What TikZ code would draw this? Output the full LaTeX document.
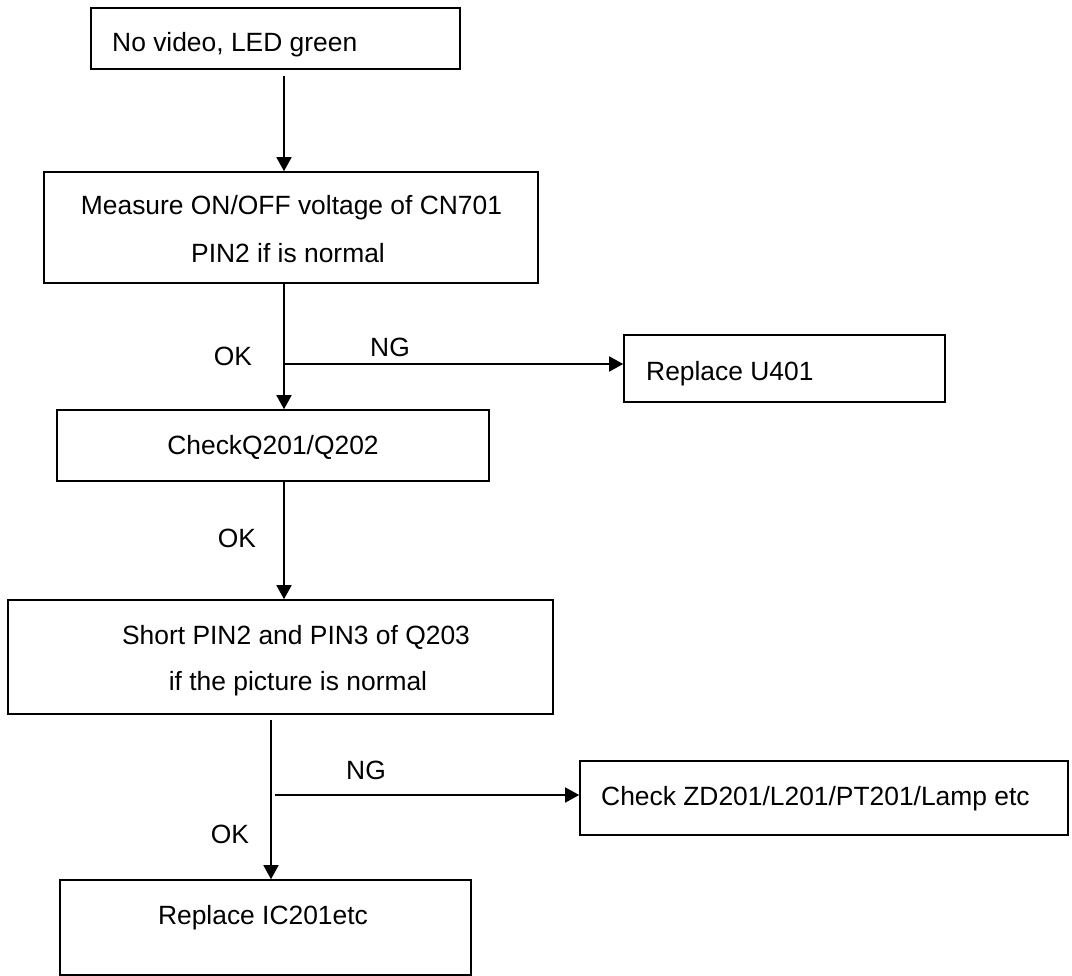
\documentclass[tikz,border=0pt]{standalone}
\usepackage{fontspec}
\setmainfont{Liberation Sans}
\usetikzlibrary{arrows.meta}
\begin{document}
\begin{tikzpicture}[x=1pt,y=-1pt,
  every node/.style={font=\fontsize{26.4pt}{32pt}\selectfont},
  box/.style={draw,line width=1.6pt,inner sep=0pt,rectangle},
  txt/.style={inner sep=0pt,anchor=base},
  txtl/.style={inner sep=0pt,anchor=base west},
  arr/.style={line width=1.6pt,-{Triangle[length=14pt,width=15pt]}}]
\useasboundingbox (0,0) rectangle (1072,976);
% boxes
\node[box,minimum width=369pt,minimum height=61pt] (B1) at (275.5,38.5) {};
\node[box,minimum width=494pt,minimum height=111pt] (B2) at (291,227.5) {};
\node[box,minimum width=432pt,minimum height=71pt] (B3) at (273,445.5) {};
\node[box,minimum width=321pt,minimum height=67pt] (BU) at (784.5,368.5) {};
\node[box,minimum width=545pt,minimum height=114pt] (B4) at (280.5,657) {};
\node[box,minimum width=488pt,minimum height=74pt] (B5) at (824,798) {};
\node[box,minimum width=411pt,minimum height=95pt] (B6) at (265.5,927.5) {};
% texts
\node[txtl] (t1) at (112,52) {No video, LED green};
\node[txt] (t2a) at (291.5,215) {Measure ON/OFF voltage of CN701};
\node[txt] (t2b) at (288,263) {PIN2 if is normal};
\node[txt] (t3) at (273,454) {CheckQ201/Q202};
\node[txtl] (tu) at (646,381) {Replace U401};
\node[txt] (t4a) at (296,644) {Short PIN2 and PIN3 of Q203};
\node[txt] (t4b) at (298,690) {if the picture is normal};
\node[txtl] (t5) at (601,805) {Check ZD201/L201/PT201/Lamp etc};
\node[txt] (t6) at (263,924) {Replace IC201etc};
% labels
\node[txt] (ok1) at (233,366) {OK};
\node[txt] (ng1) at (390,357) {NG};
\node[txt] (ok2) at (237,547) {OK};
\node[txt] (ng2) at (366,779) {NG};
\node[txt] (ok3) at (230,843) {OK};
% junctions
\coordinate (j1) at (284,364);
\coordinate (j2) at (275,795);
% connectors
\draw[arr] ([xshift=8.5pt,yshift=-6pt]B1.south) -- ([xshift=-7pt]B2.north);
\draw[arr] ([xshift=-7pt]B2.south) -- ([xshift=11pt]B3.north);
\draw[arr] (j1) -- ([yshift=4.5pt]BU.west);
\draw[arr] ([xshift=11pt]B3.south) -- ([xshift=3.5pt]B4.north);
\draw[arr] ([xshift=-9.5pt,yshift=-5pt]B4.south) -- ([xshift=5.5pt]B6.north);
\draw[arr] (j2) -- ([yshift=3pt]B5.west);
\end{tikzpicture}
\end{document}
